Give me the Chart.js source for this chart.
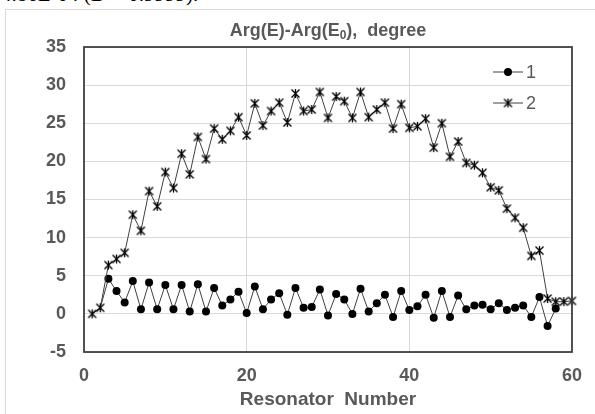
<!DOCTYPE html>
<html>
<head>
<meta charset="utf-8">
<script src="https://cdn.jsdelivr.net/npm/chart.js@4"></script>
<style>
  html, body { margin: 0; padding: 0; background: #fff; overflow: hidden; }
  #page { position: relative; width: 595px; height: 414px; overflow: hidden; }
  #cut { position: absolute; left: 1px; top: -18px; font: 21px "Liberation Serif", serif; color: #000; white-space: nowrap; }
  #frame { position: absolute; left: 5px; top: 9px; width: 620px; height: 440px; border: 1px solid #d9d9d9; }
  canvas { position: absolute; left: 0; top: 0; }
</style>
</head>
<body>
<div id="page">
  <div id="cut">4.86E-04 (D = 0.9999).</div>
  <div id="frame"></div>
  <canvas id="chart" width="595" height="414"></canvas>
</div>
<script>
// resonator numbers 1..60
const resonators = [1, 2, 3, 4, 5, 6, 7, 8, 9, 10, 11, 12, 13, 14, 15, 16, 17, 18, 19, 20,
  21, 22, 23, 24, 25, 26, 27, 28, 29, 30, 31, 32, 33, 34, 35, 36, 37, 38, 39, 40,
  41, 42, 43, 44, 45, 46, 47, 48, 49, 50, 51, 52, 53, 54, 55, 56, 57, 58, 59, 60];

// series "1" (ends at resonator 58)
const series1 = [0, 0.8, 4.6, 3.0, 1.5, 4.3, 0.6, 4.1, 0.6, 3.8,
  0.6, 3.8, 0.3, 3.9, 0.3, 3.4, 1.1, 1.9, 2.9, 0.1,
  3.6, 0.6, 1.9, 2.7, -0.1, 3.4, 0.8, 0.9, 3.2, -0.2,
  2.6, 1.9, 0, 3.3, 0.3, 1.4, 2.5, -0.4, 3.0, 0.5,
  1.0, 2.5, -0.5, 3.0, -0.4, 2.4, 0.6, 1.1, 1.2, 0.6,
  1.4, 0.5, 0.8, 1.1, -0.4, 2.2, -1.6, 0.7];

// series "2"
const series2 = [0, 0.8, 6.4, 7.2, 8.0, 13.0, 10.9, 16.1, 14.1, 18.6,
  16.5, 21.0, 18.3, 23.2, 20.3, 24.3, 22.9, 24.0, 25.8, 23.4,
  27.6, 24.7, 26.6, 27.7, 25.1, 28.9, 26.6, 26.8, 29.1, 25.7,
  28.5, 27.9, 25.7, 29.1, 25.8, 26.8, 27.7, 24.3, 27.5, 24.4,
  24.6, 25.6, 21.8, 25.0, 20.6, 22.6, 19.8, 19.5, 18.5, 16.6,
  16.2, 13.8, 12.6, 11.3, 7.6, 8.3, 2.0, 1.6, 1.6, 1.7];

const seriesLabels = ['1', '2'];
const yTicks = [-5, 35, 5];   // min, max, step
const xTicks = [0, 60, 20];

const gray = '#595959';
const fontFamily = '"Liberation Sans", Arial, sans-serif';

// Excel-like star marker: X with a vertical bar
function starMarker() {
  const c = document.createElement('canvas');
  c.width = 11; c.height = 11;
  const g = c.getContext('2d');
  g.strokeStyle = '#000';
  g.lineWidth = 1.3;
  g.beginPath();
  g.moveTo(1.5, 1.5); g.lineTo(9.5, 9.5);
  g.moveTo(9.5, 1.5); g.lineTo(1.5, 9.5);
  g.moveTo(5.5, 1); g.lineTo(5.5, 10);
  g.stroke();
  return c;
}
const star = starMarker();

const toPoints = arr => arr.map((v, i) => ({ x: resonators[i], y: v }));

// title with subscript, plot frame, legend
const decorations = {
  id: 'decorations',
  afterDraw(chart) {
    const ctx = chart.ctx;
    const a = chart.chartArea;
    ctx.save();

    // frame around plot area
    ctx.strokeStyle = '#404040';
    ctx.lineWidth = 1.8;
    ctx.strokeRect(a.left, a.top, a.right - a.left, a.bottom - a.top);

    // title
    const big = 'bold 18px ' + fontFamily;
    const small = 'bold 12px ' + fontFamily;
    const p1 = 'Arg(E)-Arg(E', p2 = '0', p3 = '),  degree';
    ctx.font = big;
    const w1 = ctx.measureText(p1).width, w3 = ctx.measureText(p3).width;
    ctx.font = small;
    const w2 = ctx.measureText(p2).width;
    let x = (a.left + a.right) / 2 - (w1 + w2 + w3) / 2;
    const base = 36;
    ctx.fillStyle = gray;
    ctx.textBaseline = 'alphabetic';
    ctx.textAlign = 'left';
    ctx.font = big; ctx.fillText(p1, x, base); x += w1;
    ctx.font = small; ctx.fillText(p2, x, base + 3); x += w2;
    ctx.font = big; ctx.fillText(p3, x, base);

    // legend
    const lx0 = 493, lx1 = 523, rows = [72, 103];
    chart.data.datasets.forEach((ds, i) => {
      const y = rows[i];
      ctx.strokeStyle = '#404040';
      ctx.lineWidth = 1;
      ctx.beginPath(); ctx.moveTo(lx0, y); ctx.lineTo(lx1, y); ctx.stroke();
      const cx = (lx0 + lx1) / 2;
      if (i === 0) {
        ctx.fillStyle = '#000';
        ctx.beginPath(); ctx.arc(cx, y, 4, 0, Math.PI * 2); ctx.fill();
      } else {
        ctx.drawImage(star, cx - 5.5, y - 5.5);
      }
      ctx.fillStyle = gray;
      ctx.font = '18px ' + fontFamily;
      ctx.textBaseline = 'middle';
      ctx.fillText(ds.label, lx1 + 3, y + 1);
    });
    ctx.restore();
  }
};

new Chart(document.getElementById('chart'), {
  type: 'line',
  data: {
    datasets: [{
      label: seriesLabels[0],
      data: toPoints(series1),
      order: 1,
      borderColor: '#404040',
      borderWidth: 1,
      pointStyle: 'circle',
      // first two markers are hidden behind series 2 in the original
      pointRadius: c => (c.dataIndex < 2 ? 0 : 4),
      pointBackgroundColor: '#000',
      pointBorderColor: '#000',
      pointBorderWidth: 0,
      tension: 0,
      clip: false
    }, {
      label: seriesLabels[1],
      data: toPoints(series2),
      order: 0,
      borderColor: '#404040',
      borderWidth: 1,
      pointStyle: star,
      tension: 0,
      clip: false
    }]
  },
  options: {
    responsive: false,
    animation: false,
    events: [],
    layout: { padding: { left: 0, right: 18, top: 47, bottom: 0 } },
    plugins: { legend: { display: false }, tooltip: { enabled: false } },
    scales: {
      x: {
        type: 'linear',
        min: xTicks[0], max: xTicks[1],
        afterFit: s => { s.height = 62; },
        grid: { color: '#d9d9d9', drawTicks: false },
        border: { display: false },
        ticks: {
          stepSize: xTicks[2], padding: 13, color: gray,
          font: { family: fontFamily, size: 18, weight: 'bold' }
        },
        title: {
          display: true, text: 'Resonator  Number', color: gray,
          padding: { top: 0, bottom: 3 },
          font: { family: fontFamily, size: 19, weight: 'bold' }
        }
      },
      y: {
        min: yTicks[0], max: yTicks[1],
        afterFit: s => { s.width = 84; },
        grid: { color: '#d9d9d9', drawTicks: false },
        border: { display: false },
        ticks: {
          stepSize: yTicks[2], padding: 18, color: gray,
          font: { family: fontFamily, size: 18, weight: 'bold' }
        }
      }
    }
  },
  plugins: [decorations]
});
</script>
</body>
</html>
